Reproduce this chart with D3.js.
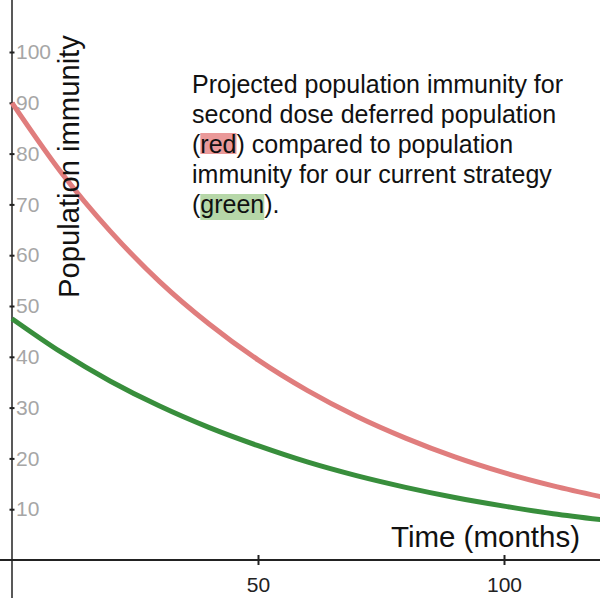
<!DOCTYPE html>
<html><head><meta charset="utf-8">
<script src="https://cdn.jsdelivr.net/npm/d3@7"></script>
<style>html,body{margin:0;padding:0;background:#fff;}svg{display:block;font-family:"Liberation Sans",Arial,sans-serif;}</style>
</head><body>
<script>
const months = [0,10,20,30,40,50,60,70,80,90,100,110,120];
const deferred = [90,76.3,64.7,54.8,46.5,39.4,33.4,28.3,24.0,20.3,17.2,14.6,12.4];
const current = [47.5,40.9,35.2,30.3,26.1,22.5,19.3,16.6,14.3,12.3,10.6,9.1,7.9];
const yTicks = [10,20,30,40,50,60,70,80,90,100];
const xTicks = [50,100];
const noteLines = [
  ["Projected population immunity for"],
  ["second dose deferred population"],
  ["(", "red", ") compared to population"],
  ["immunity for our current strategy"],
  ["(", "green", ")."]
];

const W=600,H=599;
const svg=d3.select("body").append("svg").attr("width",W).attr("height",H);
const x=d3.scaleLinear().domain([0,120]).range([12,602.4]);
const y=d3.scaleLinear().domain([0,100]).range([560,52]);

// axes lines
svg.append("line").attr("x1",0).attr("x2",W).attr("y1",y(0)).attr("y2",y(0)).attr("stroke","#222").attr("stroke-width",2);
svg.append("line").attr("x1",x(0)).attr("x2",x(0)).attr("y1",0).attr("y2",598).attr("stroke","#222").attr("stroke-width",1.5);

// y ticks
const yg=svg.append("g").attr("transform",`translate(${x(0)},0)`)
  .call(d3.axisRight(y).tickValues(yTicks).tickSize(0).tickPadding(4));
yg.select(".domain").remove();
yg.selectAll(".tick text").attr("fill","#a6a6a6").attr("font-size",21).attr("font-family","Liberation Sans, Arial, sans-serif");
yg.selectAll(".tick").append("line").attr("x1",-2.5).attr("x2",2.5).attr("stroke","#222").attr("stroke-width",2);

// x ticks
const xg=svg.append("g").attr("transform",`translate(0,${y(0)})`)
  .call(d3.axisBottom(x).tickValues(xTicks).tickSize(0).tickPadding(17));
xg.select(".domain").remove();
xg.selectAll(".tick text").attr("fill","#222").attr("font-size",21).attr("font-family","Liberation Sans, Arial, sans-serif");
xg.selectAll(".tick").append("line").attr("y1",-5).attr("y2",5).attr("stroke","#222").attr("stroke-width",2);

// lines
const line=d3.line().x(d=>x(d[0])).y(d=>y(d[1])).curve(d3.curveMonotoneX);
svg.append("path").datum(months.map((m,i)=>[m,deferred[i]])).attr("d",line).attr("fill","none").attr("stroke","#e07d7d").attr("stroke-width",5);
svg.append("path").datum(months.map((m,i)=>[m,current[i]])).attr("d",line).attr("fill","none").attr("stroke","#388e3c").attr("stroke-width",5);

// axis titles
svg.append("text").attr("x",580).attr("y",547).attr("text-anchor","end").attr("font-size",29.5).attr("fill","#111").text("Time (months)");
svg.append("text").attr("transform","translate(79,298) rotate(-90)").attr("font-size",29.2).attr("fill","#111").text("Population immunity");

// annotation
const note=svg.append("g");
const lx=192, ly0=93, lh=30, fs=25;
noteLines.forEach((parts,i)=>{
  const t=note.append("text").attr("x",lx).attr("y",ly0+i*lh).attr("font-size",fs).attr("fill","#111");
  parts.forEach(p=>t.append("tspan").text(p));
  if(parts.length>1){
    const node=t.node();
    const pre=node.getSubStringLength(0,parts[0].length);
    const w=node.getSubStringLength(parts[0].length,parts[1].length);
    const col=parts[1]==="red"?"#ea9999":"#b6d7a8";
    const top=parts[1]==="red"?-20:-19, h=parts[1]==="red"?21:26;
    note.insert("rect","text").attr("x",lx+pre).attr("y",ly0+i*lh+top).attr("width",w).attr("height",h).attr("fill",col);
  }
});
</script>
</body></html>
